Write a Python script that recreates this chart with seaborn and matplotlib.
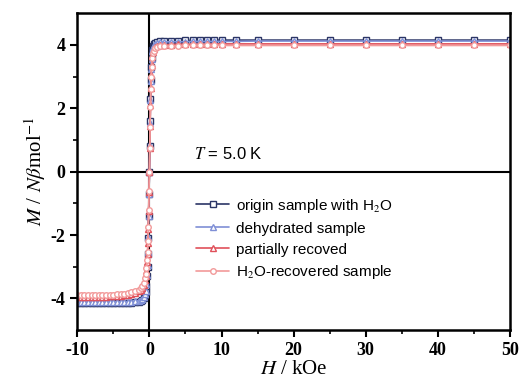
import numpy as np
import pandas as pd
import seaborn as sns
import matplotlib.pyplot as plt

# field values (kOe)
H_neg = [-10, -9.5, -9, -8.5, -8, -7.5, -7, -6.5, -6, -5.5, -5, -4.5, -4, -3.5, -3, -2.5,
         -2, -1.5, -1.2, -1.0, -0.8, -0.6, -0.5, -0.4, -0.3, -0.25, -0.2, -0.15, -0.1, -0.05]
H_pos = [0, 0.05, 0.1, 0.15, 0.2, 0.25, 0.3, 0.4, 0.5, 0.6, 0.8, 1.0, 1.5, 2, 3, 4, 5, 6,
         7, 8, 9, 10, 12, 15, 20, 25, 30, 35, 40, 45, 50]

m_origin_neg = [-4.15, -4.15, -4.15, -4.15, -4.15, -4.15, -4.15, -4.15, -4.15, -4.15, -4.15,
                -4.15, -4.14, -4.14, -4.14, -4.13, -4.12, -4.1, -4.08, -4.05, -4.0, -3.9,
                -3.8, -3.6, -3.3, -3.0, -2.6, -2.1, -1.4, -0.7]
m_origin_pos = [0.0, 0.8, 1.6, 2.3, 2.9, 3.3, 3.6, 3.85, 3.95, 4.02, 4.07, 4.1, 4.11, 4.12,
                4.13, 4.13, 4.14, 4.14, 4.14, 4.14, 4.15, 4.15, 4.15, 4.15, 4.15, 4.15,
                4.15, 4.15, 4.15, 4.15, 4.15]

m_dehyd_neg = [-4.12, -4.12, -4.12, -4.12, -4.12, -4.12, -4.12, -4.12, -4.12, -4.12, -4.12,
               -4.11, -4.11, -4.11, -4.1, -4.1, -4.09, -4.07, -4.05, -4.02, -3.97, -3.87,
               -3.77, -3.55, -3.25, -2.95, -2.55, -2.05, -1.4, -0.7]
m_dehyd_pos = [0.0, 0.8, 1.55, 2.25, 2.85, 3.25, 3.55, 3.8, 3.92, 3.98, 4.03, 4.06, 4.08,
               4.09, 4.1, 4.1, 4.1, 4.11, 4.11, 4.11, 4.11, 4.11, 4.11, 4.12, 4.12, 4.12,
               4.12, 4.12, 4.12, 4.12, 4.12]

m_partial_neg = [-3.95, -3.95, -3.95, -3.95, -3.95, -3.95, -3.94, -3.94, -3.94, -3.93, -3.93,
                 -3.92, -3.91, -3.9, -3.88, -3.86, -3.83, -3.78, -3.72, -3.66, -3.57, -3.42,
                 -3.3, -3.12, -2.85, -2.6, -2.25, -1.8, -1.25, -0.65]
m_partial_pos = [0.0, 0.75, 1.45, 2.1, 2.65, 3.05, 3.35, 3.65, 3.78, 3.86, 3.93, 3.96, 3.99,
                 4.0, 4.01, 4.02, 4.02, 4.02, 4.02, 4.02, 4.03, 4.03, 4.03, 4.03, 4.03, 4.03,
                 4.03, 4.03, 4.03, 4.03, 4.03]

m_recov_neg = [-3.9, -3.9, -3.9, -3.9, -3.9, -3.9, -3.89, -3.89, -3.89, -3.88, -3.88, -3.87,
               -3.86, -3.85, -3.83, -3.81, -3.78, -3.73, -3.67, -3.6, -3.5, -3.35, -3.22,
               -3.05, -2.8, -2.55, -2.2, -1.75, -1.2, -0.6]
m_recov_pos = [0.0, 0.75, 1.4, 2.05, 2.6, 3.0, 3.3, 3.6, 3.73, 3.82, 3.89, 3.92, 3.95, 3.96,
               3.97, 3.97, 3.98, 3.98, 3.98, 3.98, 3.98, 3.98, 3.98, 3.98, 3.98, 3.98, 3.98,
               3.98, 3.98, 3.98, 3.98]

labels = ["origin sample with H$_2$O", "dehydrated sample", "partially recoved",
          "H$_2$O-recovered sample"]
series = [m_origin_neg + m_origin_pos, m_dehyd_neg + m_dehyd_pos,
          m_partial_neg + m_partial_pos, m_recov_neg + m_recov_pos]
H = H_neg + H_pos

colors = ["#2b3566", "#7f8fd6", "#e0505a", "#f29a9a"]
markers = ["s", "^", "^", "o"]

sns.set_style("ticks")
plt.rcParams['font.family'] = ['Liberation Serif', 'DejaVu Serif']
plt.rcParams['mathtext.fontset'] = 'stix'
plt.rcParams['axes.unicode_minus'] = False
plt.rcParams['text.color'] = 'black'
plt.rcParams['axes.labelcolor'] = 'black'
plt.rcParams['xtick.color'] = 'black'
plt.rcParams['ytick.color'] = 'black'
plt.rcParams['axes.edgecolor'] = 'black'

fig, ax = plt.subplots(figsize=(5.22, 3.87), dpi=100)
fig.subplots_adjust(left=0.148, right=0.977, top=0.966, bottom=0.147)

for lab, m, c, mk in zip(labels, series, colors, markers):
    df = pd.DataFrame({'H': H, 'M': m})
    sns.lineplot(data=df, x='H', y='M', ax=ax, color=c, marker=mk, markersize=4,
                 markerfacecolor='white', markeredgecolor=c, markeredgewidth=1.0,
                 linewidth=1.2, label=lab)

ax.axhline(0, color='black', lw=1.5, zorder=0)
ax.axvline(0, color='black', lw=1.5, zorder=0)

ax.set_xlim(-10, 50)
ax.set_ylim(-5, 5)
ax.set_xticks([-10, 0, 10, 20, 30, 40, 50])
ax.set_xticks(np.arange(-5, 50, 10), minor=True)
ax.set_yticks([-4, -2, 0, 2, 4])
ax.set_yticks([-3, -1, 1, 3], minor=True)
ax.tick_params(axis='both', which='major', direction='out', length=5, width=1.5,
               labelsize=13)
ax.tick_params(axis='both', which='minor', direction='out', length=3, width=1.2)
for t in ax.get_xticklabels() + ax.get_yticklabels():
    t.set_fontweight('bold')
for s in ax.spines.values():
    s.set_linewidth(1.8)
    s.set_visible(True)

ax.set_xlabel("$H$ / kOe", fontsize=15, labelpad=1)
ax.set_ylabel("$M$ / $N\\beta$mol$^{-1}$", fontsize=15, labelpad=2)

ax.text(0.27, 0.555, "$T$ = 5.0 K", transform=ax.transAxes, fontsize=12,
        family=['Liberation Sans', 'DejaVu Sans'], va='center')

leg = ax.legend(loc='upper left', bbox_to_anchor=(0.26, 0.44), frameon=False,
                prop={'family': ['Liberation Sans', 'DejaVu Sans'], 'size': 11},
                handlelength=2.2, handletextpad=0.4, labelspacing=0.45,
                borderaxespad=0)

fig.savefig("out.png", dpi=100)
